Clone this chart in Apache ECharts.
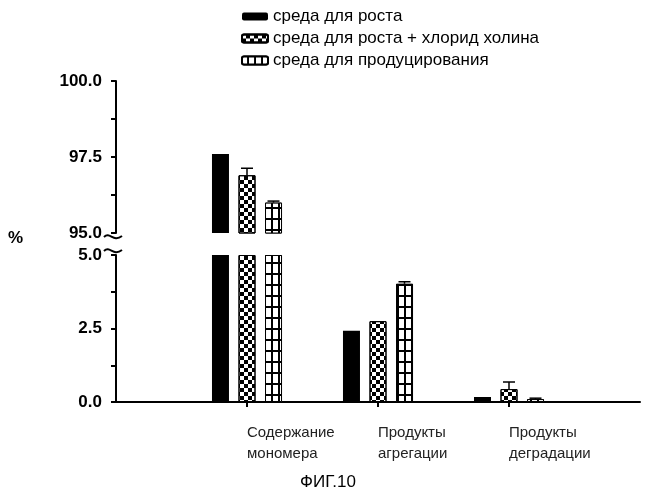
<!DOCTYPE html>
<html>
<head>
<meta charset="utf-8">
<script src="https://cdn.jsdelivr.net/npm/echarts@6/dist/echarts.min.js"></script>
<style>body{margin:0}#main{width:660px;height:500px}</style>
</head>
<body>
<div id="main"></div>
<script>
// категории (пустые по краям - для отступов оси)
var categories = ['', 'Содержание\nмономера', 'Продукты\nагрегации', 'Продукты\nдеградации', ''];
var seriesNames = ['среда для роста', 'среда для роста + хлорид холина', 'среда для продуцирования'];
var growth      = ['-', 97.6, 2.42, 0.17, '-'];
var growthCho   = ['-', 96.9, 2.75, 0.44, '-'];
var production  = ['-', 96.0, 4.02, 0.10, '-'];
var errGrowth    = [0, 0, 0, 0, 0];
var errGrowthCho = [0, 0.23, 0, 0.24, 0];
var errProd      = [0, 0.05, 0.07, 0.03, 0];

var font = 'Arial, "Liberation Sans", sans-serif';
var styles = [
    {color: '#000'},
    {color: '#fff', borderColor: '#000', borderWidth: 1,
        decal: {symbol: 'rect', symbolSize: 1, color: '#000',
            dashArrayX: [[4, 4], [0, 4, 4, 0]], dashArrayY: [4, 0]}},
    {color: '#000', borderColor: '#000', borderWidth: 1,
        decal: {symbol: 'rect', symbolSize: 1, color: '#fff',
            dashArrayX: [4.5, 1.3], dashArrayY: [8.5, 1.5]}}
];
var values = [growth, growthCho, production];
var errs = [errGrowth, errGrowthCho, errProd];
var offsets = [-26.5, 0, 26.5];

function upperPart(arr) {
    return arr.map(function (v) { return (v === '-' || v < 95) ? '-' : v; });
}
function lowerPart(arr) {
    return arr.map(function (v) { return v === '-' ? '-' : Math.min(v, 5); });
}

var series = [];
for (var s = 0; s < 3; s++) {
    series.push({
        name: seriesNames[s], type: 'bar', xAxisIndex: 0, yAxisIndex: 0,
        data: upperPart(values[s]), barWidth: 17, barGap: '56%',
        itemStyle: styles[s]
    });
    series.push({
        name: seriesNames[s], type: 'bar', xAxisIndex: 1, yAxisIndex: 1,
        data: lowerPart(values[s]), barWidth: 17, barGap: '56%',
        itemStyle: styles[s]
    });
}

// планки погрешностей
function errData(s, upper) {
    var out = [];
    for (var i = 0; i < categories.length; i++) {
        var v = values[s][i], e = errs[s][i];
        if (v === '-' || !e) continue;
        if (upper && v < 95) continue;
        if (!upper && v >= 95) continue;
        out.push([i, v, v + e]);
    }
    return out;
}
function errSeries(s, upper) {
    var off = offsets[s];
    return {
        type: 'custom', xAxisIndex: upper ? 0 : 1, yAxisIndex: upper ? 0 : 1,
        data: errData(s, upper), z: 5, silent: true,
        renderItem: function (params, api) {
            var p0 = api.coord([api.value(0), api.value(1)]);
            var p1 = api.coord([api.value(0), api.value(2)]);
            var x = p0[0] + off;
            return {
                type: 'group', children: [
                    {type: 'line', shape: {x1: x, y1: p0[1], x2: x, y2: p1[1]}, style: {stroke: '#000', lineWidth: 1.5}},
                    {type: 'line', shape: {x1: x - 6, y1: p1[1], x2: x + 6, y2: p1[1]}, style: {stroke: '#000', lineWidth: 1.5}}
                ]
            };
        }
    };
}
for (var s2 = 0; s2 < 3; s2++) {
    series.push(errSeries(s2, true));
    series.push(errSeries(s2, false));
}

function yLabel(v) {
    return (Math.abs(v / 2.5 - Math.round(v / 2.5)) < 1e-6) ? v.toFixed(1) : '';
}
var yAxisCommon = {
    type: 'value', interval: 1.25, splitLine: {show: false},
    axisLine: {show: true, lineStyle: {color: '#000', width: 2}},
    axisTick: {show: true, length: 5, lineStyle: {color: '#000', width: 2}},
    axisLabel: {formatter: yLabel, color: '#000', fontSize: 17, fontWeight: 'bold', fontFamily: font, margin: 14}
};

var option = {
    animation: false,
    backgroundColor: '#fff',
    legend: {
        data: seriesNames, orient: 'vertical', left: 236, top: 3, itemGap: 5,
        itemWidth: 26, itemHeight: 8, selectedMode: false,
        textStyle: {fontSize: 17, fontFamily: font, color: '#000'}
    },
    grid: [
        {left: 116, right: 20, top: 81, height: 152},
        {left: 116, right: 20, top: 255, height: 147}
    ],
    xAxis: [
        {gridIndex: 0, type: 'category', data: categories, boundaryGap: false, show: false},
        {gridIndex: 1, type: 'category', data: categories, boundaryGap: false,
            axisLine: {lineStyle: {color: '#000', width: 2}},
            axisTick: {interval: function (i) { return i > 0 && i < 4; }, length: 5, inside: false, lineStyle: {color: '#000', width: 2}},
            axisLabel: {interval: 0, color: '#222', fontSize: 15, fontFamily: font, margin: 20, lineHeight: 21, align: 'left'}
        }
    ],
    yAxis: [
        Object.assign({gridIndex: 0, min: 95, max: 100}, yAxisCommon),
        Object.assign({gridIndex: 1, min: 0, max: 5}, yAxisCommon)
    ],
    graphic: [
        {type: 'rect', shape: {x: 110, y: 237, width: 12, height: 14}, style: {fill: '#fff'}, z: 100},
        {type: 'bezierCurve', shape: {x1: 104, y1: 237, cpx1: 110, cpy1: 231, cpx2: 113, cpy2: 243, x2: 122, y2: 236},
            style: {stroke: '#000', lineWidth: 2, fill: null}, z: 101},
        {type: 'bezierCurve', shape: {x1: 104, y1: 251, cpx1: 110, cpy1: 245, cpx2: 113, cpy2: 257, x2: 122, y2: 250},
            style: {stroke: '#000', lineWidth: 2, fill: null}, z: 101},
        {type: 'text', left: 8, top: 230, style: {text: '%', fontSize: 17, fontWeight: 'bold', fontFamily: font, fill: '#000'}},
        {type: 'text', left: 300, top: 474, style: {text: 'ФИГ.10', fontSize: 17, fontFamily: font, fill: '#000'}}
    ],
    series: series
};

var chart = echarts.init(document.getElementById('main'));
chart.setOption(option);
</script>
</body>
</html>
